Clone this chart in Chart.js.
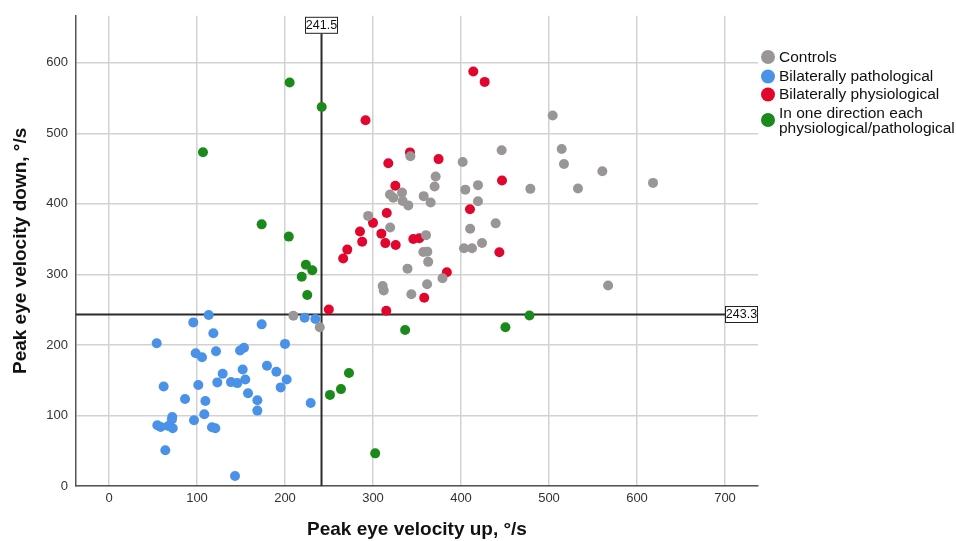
<!DOCTYPE html>
<html>
<head>
<meta charset="utf-8">
<script src="https://cdn.jsdelivr.net/npm/chart.js@4"></script>
<style>
  html, body { margin: 0; padding: 0; background: #fff; }
  #wrap { width: 956px; height: 541px; }
</style>
</head>
<body>
<div id="wrap"><canvas id="scatter" width="956" height="541"></canvas></div>
<script>
// peak eye velocity up (x) / down (y)
const controlsUp = [209.5, 239.5, 294.5, 319.5, 319.3, 323.1, 333, 333.7, 340.1, 342.5, 357.6, 365.5, 371.2, 370, 360.2, 357.2, 361.7, 362.7, 339.2, 343.6, 361.5, 379, 311, 312.2, 401.9, 404.9, 419.3, 419.3, 410.4, 403.4, 412.5, 423.9, 439.4, 446.2, 478.8, 504.2, 514.4, 517, 532.9, 560.6, 618.2, 567.2];
const controlsDown = [241.5, 225, 383, 366.5, 413.4, 408.6, 416, 404, 397.9, 467.5, 411, 402.1, 438.8, 424.7, 355.7, 331.9, 332.3, 317.8, 308.2, 271.9, 286, 294.5, 283.5, 277.3, 459.5, 420.2, 426.6, 403.7, 364.8, 337.1, 337.1, 344.5, 372.4, 476, 421.3, 525.4, 477.8, 456.6, 421.9, 446.3, 429.8, 284.3];

const pathUp = [54.2, 95.8, 113.3, 118.6, 98.5, 105.7, 121.6, 173.5, 200, 222.3, 234.5, 148.9, 153.4, 129.2, 151.9, 179.5, 190.2, 201.9, 195.1, 154.9, 138.6, 145.8, 123.1, 101.5, 62.1, 86.4, 109.5, 158, 168.6, 168.6, 229.2, 108.3, 96.6, 71.9, 71.5, 54.9, 58.7, 67.4, 72.4, 117, 120.8, 64, 143.2];
const pathDown = [202.4, 232, 242.5, 216.5, 188.3, 182.6, 191.1, 229.2, 201.5, 238.7, 236.8, 192.1, 195.9, 159.2, 165.3, 170.5, 162, 151.1, 139.8, 151.1, 147.3, 145.9, 146.9, 143.1, 141.2, 123.3, 120.5, 131.4, 121.5, 106.9, 117.7, 101.7, 93.2, 97.9, 94.2, 86.2, 83.8, 85.2, 81.9, 83.3, 81.9, 50.8, 14.1];

const physUp = [249.8, 315.1, 358.2, 383.9, 266.1, 270.8, 287.7, 285.2, 300, 309.5, 314, 325.8, 345.8, 352.6, 315.6, 325.4, 317.4, 342, 374.5, 291.5, 414, 426.9, 446.6, 410.2, 443.6];
const physDown = [250.2, 248.6, 267, 303, 322.5, 335.2, 346.3, 360.9, 373.1, 357.8, 344.4, 341.8, 350.3, 351.3, 387, 425.6, 457.6, 473, 463.5, 518.6, 587.6, 573, 433.2, 392.5, 331.5];

const mixedUp = [205.3, 241.7, 106.8, 173.5, 204.3, 223.7, 231, 219, 225.3, 336.5, 450.5, 477.8, 251.1, 263.6, 272.7, 302.5];
const mixedDown = [572, 537.5, 473.2, 371, 353.6, 313.8, 305.8, 296.8, 270.8, 221.3, 225, 241.8, 129.2, 137.4, 160.3, 46.3];

const groupNames = ['Controls', 'Bilaterally pathological', 'Bilaterally physiological', ['In one direction each', 'physiological/pathological']];
const groupColors = ['#9b9696', '#4a92e8', '#e2062f', '#1b8a1b'];

const xTicks = [0, 100, 200, 300, 400, 500, 600, 700];
const yTicks = [0, 100, 200, 300, 400, 500, 600];

// mean lines
const meanUp = 241.5;
const meanDown = 243.3;

const zip = (xs, ys) => xs.map((x, i) => ({ x: x, y: ys[i] }));
const keepTicks = list => scale => { scale.ticks = list.map(v => ({ value: v })); };

const groups = [[controlsUp, controlsDown], [pathUp, pathDown], [physUp, physDown], [mixedUp, mixedDown]];

const datasets = groups.map((g, i) => ({
  label: [].concat(groupNames[i]).join(' '),
  data: zip(g[0], g[1]),
  backgroundColor: groupColors[i],
  borderWidth: 0,
  pointRadius: 5,
  pointHoverRadius: 5
}));

const labelBox = (ctx, text, x, y, w, h) => {
  ctx.fillStyle = '#fff';
  ctx.fillRect(x, y, w, h);
  ctx.strokeStyle = '#222';
  ctx.lineWidth = 1;
  ctx.strokeRect(x + 0.5, y + 0.5, w - 1, h - 1);
  ctx.fillStyle = '#111';
  ctx.font = '12.5px "Liberation Sans", Arial, sans-serif';
  ctx.textAlign = 'center';
  ctx.textBaseline = 'middle';
  ctx.fillText(text, x + w / 2, y + h / 2 + 0.5);
};

const meanLines = {
  id: 'meanLines',
  beforeDatasetsDraw(chart) {
    const { ctx, chartArea, scales } = chart;
    const px = scales.x.getPixelForValue(meanUp);
    const py = scales.y.getPixelForValue(meanDown);
    ctx.save();
    ctx.strokeStyle = '#2b2b2b';
    ctx.lineWidth = 2;
    ctx.beginPath();
    ctx.moveTo(px, chartArea.top + 16);
    ctx.lineTo(px, chartArea.bottom);
    ctx.moveTo(chartArea.left, py);
    ctx.lineTo(chartArea.right - 33, py);
    ctx.stroke();
    ctx.restore();
  },
  afterDraw(chart) {
    const { ctx, chartArea, scales } = chart;
    const px = scales.x.getPixelForValue(meanUp);
    const py = scales.y.getPixelForValue(meanDown);
    ctx.save();
    labelBox(ctx, meanUp.toFixed(1), Math.round(px - 16.5), chartArea.top + 1, 33, 17);
    labelBox(ctx, meanDown.toFixed(1), chartArea.right - 33, Math.round(py - 8), 33, 17);
    ctx.restore();
  }
};

// legend on the right, drawn by hand so the two-line label fits
const sideLegend = {
  id: 'sideLegend',
  afterDraw(chart) {
    const ctx = chart.ctx;
    const dotX = 768;
    const textX = 779;
    const dotY = [57, 76.5, 94.5, 120];
    const lineY = [[57.5], [76.5], [95], [113.3], [129]];
    const rows = [[lineY[0][0]], [lineY[1][0]], [lineY[2][0]], [lineY[3][0], lineY[4][0]]];
    ctx.save();
    ctx.font = '15.5px "Liberation Sans", Arial, sans-serif';
    ctx.textAlign = 'left';
    ctx.textBaseline = 'middle';
    groupNames.forEach((name, i) => {
      ctx.fillStyle = groupColors[i];
      ctx.beginPath();
      ctx.arc(dotX, dotY[i], 7, 0, Math.PI * 2);
      ctx.fill();
      ctx.fillStyle = '#111';
      [].concat(name).forEach((line, j) => ctx.fillText(line, textX, rows[i][j]));
    });
    ctx.restore();
  }
};

new Chart(document.getElementById('scatter'), {
  type: 'scatter',
  data: { datasets: datasets },
  options: {
    responsive: false,
    animation: false,
    devicePixelRatio: 1,
    layout: { padding: { top: 14, right: 198, left: 0, bottom: 0 } },
    plugins: { legend: { display: false }, tooltip: { enabled: false } },
    scales: {
      x: {
        type: 'linear',
        min: -37.5,
        max: 737.5,
        afterBuildTicks: keepTicks(xTicks),
        afterFit: scale => { scale.height = 55; },
        grid: { color: '#d2d2d2', lineWidth: 1.5, drawTicks: false },
        border: { color: '#555', width: 1.5 },
        ticks: { padding: 5, color: '#333', font: { size: 13, family: '"Liberation Sans", Arial, sans-serif' } },
        title: { display: true, text: 'Peak eye velocity up, °/s', color: '#111', padding: { top: 0, bottom: 0 }, font: { size: 19, weight: 'bold', family: '"Liberation Sans", Arial, sans-serif' } }
      },
      y: {
        type: 'linear',
        min: 0,
        max: 666.7,
        afterBuildTicks: keepTicks(yTicks),
        afterFit: scale => { scale.width = 76; },
        grid: { color: '#d2d2d2', lineWidth: 1.5, drawTicks: false },
        border: { color: '#555', width: 1.5 },
        ticks: { padding: 8, color: '#333', font: { size: 13, family: '"Liberation Sans", Arial, sans-serif' } },
        title: { display: true, text: 'Peak eye velocity down, °/s', color: '#111', padding: { top: 9, bottom: 0 }, font: { size: 19, weight: 'bold', family: '"Liberation Sans", Arial, sans-serif' } }
      }
    }
  },
  plugins: [meanLines, sideLegend]
});
</script>
</body>
</html>
